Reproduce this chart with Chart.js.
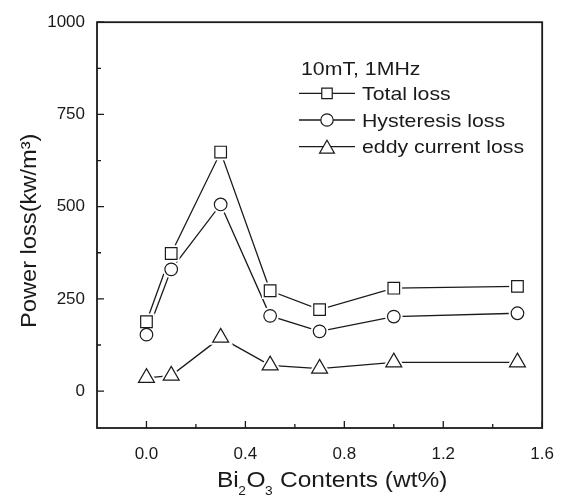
<!DOCTYPE html>
<html><head><meta charset="utf-8">
<script src="https://cdn.jsdelivr.net/npm/chart.js@4.4.0/dist/chart.umd.min.js"></script>
<style>html,body{margin:0;padding:0;background:#fff;}#wrap{width:570px;height:496px;}</style>
</head><body><div id="wrap"><canvas id="c" width="570" height="496"></canvas></div>
<script>
// ---- data ----
const bi2o3Contents = [0, 0.1, 0.3, 0.5, 0.7, 1.0, 1.5];
const totalLoss = [188, 373, 648, 272, 221, 279, 284];
const hysteresisLoss = [153, 330, 506, 204, 162, 202, 211];
const eddyCurrentLoss = [36, 42, 145, 70, 61, 78, 78];
const seriesNames = ['Total loss', 'Hysteresis loss', 'eddy current loss'];
const xTickValues = [0, 0.4, 0.8, 1.2, 1.6];
const xMinorTickValues = [0.2, 0.6, 1.0, 1.4];
const yTickValues = [0, 250, 500, 750, 1000];
const yMinorTickValues = [125, 375, 625, 875];
const legendTitle = '10mT, 1MHz';
const yTitle = 'Power loss(kw/m\u00B3)';
// [text, isSubscript]
const xTitleParts = [['Bi', false], ['2', true], ['O', false], ['3', true], [' Contents (wt%)', false]];

// ---- styling ----
const INK = '#1a1a1a';
const FONT = "'Liberation Sans', Arial, Helvetica, sans-serif";
const markerStyles = [
  {style: 'rect', r: 8.2, legendR: 7.4},
  {style: 'circle', r: 6.3, legendR: 6.2},
  {style: 'triangle', r: 9.2, legendR: 8.6}
];
const seriesValues = [totalLoss, hysteresisLoss, eddyCurrentLoss];
const toPoints = arr => arr.map((v, i) => ({x: bi2o3Contents[i], y: v}));

const datasets = [];
seriesValues.forEach((arr, i) => {
  const ms = markerStyles[i];
  datasets.push({label: seriesNames[i] + ' line', data: toPoints(arr), borderColor: INK, borderWidth: 1.3,
    pointRadius: 0, showLine: true, fill: false, tension: 0, order: 3});
  datasets.push({label: seriesNames[i] + ' gap', data: toPoints(arr), showLine: false, pointStyle: ms.style,
    pointRadius: ms.r, pointBackgroundColor: '#fff', pointBorderColor: '#fff', pointBorderWidth: 5, order: 2});
  datasets.push({label: seriesNames[i], data: toPoints(arr), showLine: false, pointStyle: ms.style,
    pointRadius: ms.r, pointBackgroundColor: '#fff', pointBorderColor: INK, pointBorderWidth: 1.2, order: 1});
});

function drawMarker(ctx, style, x, y, r) {
  ctx.beginPath();
  if (style === 'rect') { const s = r * Math.SQRT1_2; ctx.rect(x - s, y - s, 2 * s, 2 * s); }
  else if (style === 'circle') { ctx.arc(x, y, r, 0, Math.PI * 2); }
  else {
    const a = 2 * Math.PI / 3;
    ctx.moveTo(x, y - r);
    ctx.lineTo(x + r * Math.sin(a), y - r * Math.cos(a));
    ctx.lineTo(x + r * Math.sin(2 * a), y - r * Math.cos(2 * a));
    ctx.closePath();
  }
  ctx.fillStyle = '#fff'; ctx.fill(); ctx.stroke();
}
function stretchText(ctx, text, x, y, sx) {
  ctx.save(); ctx.translate(x, y); ctx.scale(sx, 1); ctx.fillText(text, 0, 0); ctx.restore();
  return ctx.measureText(text).width * sx;
}

const decor = {
  id: 'decor',
  afterDatasetsDraw(chart) {
    const {ctx, chartArea: a, scales: {x, y}} = chart;
    ctx.save();
    // frame
    ctx.strokeStyle = INK; ctx.lineWidth = 1.8;
    ctx.strokeRect(a.left, a.top, a.right - a.left, a.bottom - a.top);
    // inward ticks
    ctx.lineWidth = 1.3; ctx.beginPath();
    xTickValues.forEach(v => { const p = x.getPixelForValue(v); ctx.moveTo(p, a.bottom); ctx.lineTo(p, a.bottom - 7); });
    xMinorTickValues.forEach(v => { const p = x.getPixelForValue(v); ctx.moveTo(p, a.bottom); ctx.lineTo(p, a.bottom - 4); });
    yTickValues.forEach(v => { const p = y.getPixelForValue(v); ctx.moveTo(a.left, p); ctx.lineTo(a.left + 7, p); });
    yMinorTickValues.forEach(v => { const p = y.getPixelForValue(v); ctx.moveTo(a.left, p); ctx.lineTo(a.left + 4, p); });
    ctx.stroke();

    // legend
    ctx.fillStyle = INK; ctx.textBaseline = 'alphabetic'; ctx.textAlign = 'left';
    ctx.font = '19px ' + FONT;
    stretchText(ctx, legendTitle, 301, 75, 1.12);
    const rowY = [93.3, 120, 146.7];
    const textY = [100, 126.7, 153.2];
    seriesNames.forEach((name, i) => {
      const ms = markerStyles[i];
      ctx.strokeStyle = INK; ctx.lineWidth = 1.3;
      ctx.beginPath(); ctx.moveTo(299, rowY[i]); ctx.lineTo(355, rowY[i]); ctx.stroke();
      ctx.lineWidth = 1.2;
      const cy = ms.style === 'triangle' ? rowY[i] + ms.legendR / 4 : rowY[i];
      drawMarker(ctx, ms.style, 327, cy, ms.legendR);
      ctx.fillStyle = INK;
      ctx.font = '19px ' + FONT;
      stretchText(ctx, name, 362, textY[i], 1.12);
    });

    // y title
    ctx.save();
    ctx.font = '21.5px ' + FONT;
    ctx.translate(36, 328); ctx.rotate(-Math.PI / 2); ctx.scale(1.1, 1);
    ctx.fillText(yTitle, 0, 0);
    ctx.restore();

    // x title with subscripts, laid out left to right
    let cx = 217;
    xTitleParts.forEach(([txt, sub]) => {
      ctx.font = (sub ? '12.5px ' : '21.5px ') + FONT;
      const w = stretchText(ctx, txt, cx, sub ? 495 : 487, sub ? 1.1 : 1.14);
      cx += w + (sub ? 0.5 : -0.5);
    });
    ctx.restore();
  }
};

new Chart(document.getElementById('c'), {
  type: 'line',
  data: {datasets},
  options: {
    responsive: false, animation: false, devicePixelRatio: 1,
    layout: {padding: {left: 0, right: 23, top: 19, bottom: 0}},
    plugins: {legend: {display: false}, tooltip: {enabled: false}},
    scales: {
      x: {
        type: 'linear', min: -0.2, max: 1.6,
        afterBuildTicks: s => { s.ticks = xTickValues.map(v => ({value: v})); },
        afterFit: s => { s.height = 68; },
        grid: {display: false, drawTicks: false}, border: {display: false},
        ticks: {font: {family: FONT, size: 17}, color: INK, padding: 16, autoSkip: false, maxRotation: 0,
          callback: v => Number(v).toFixed(1)}
      },
      y: {
        type: 'linear', min: -100, max: 1000,
        afterBuildTicks: s => { s.ticks = yTickValues.map(v => ({value: v})); },
        afterFit: s => { s.width = 97; },
        grid: {display: false, drawTicks: false}, border: {display: false},
        ticks: {font: {family: FONT, size: 17}, color: INK, padding: 12, autoSkip: false,
          callback: v => String(v)}
      }
    }
  },
  plugins: [decor]
});
</script></body></html>
